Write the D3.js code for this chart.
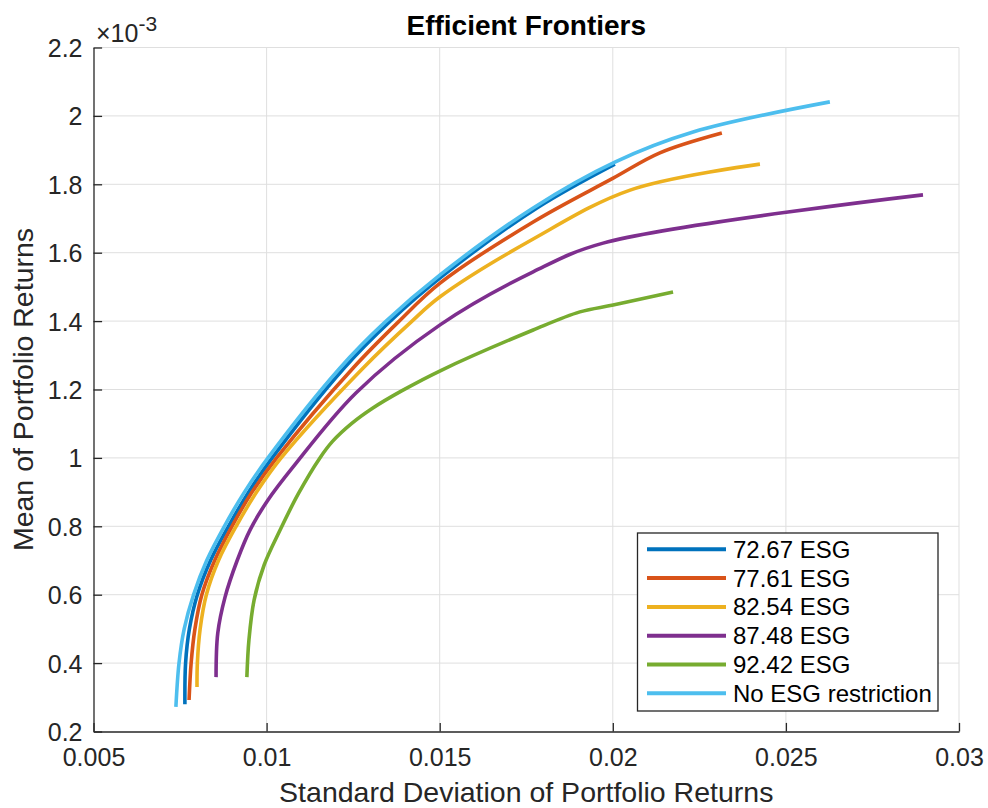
<!DOCTYPE html>
<html>
<head>
<meta charset="utf-8">
<script src="https://cdn.jsdelivr.net/npm/d3@7"></script>
<style>
  html, body { margin: 0; padding: 0; background: #fff; }
  svg { display: block; font-family: "Liberation Sans", Arial, sans-serif; }
</style>
</head>
<body>
<svg id="chart" width="988" height="808"></svg>
<script>
// ---- data: [standard deviation, mean (x 1e-3)] ----
const seriesLabels = ["72.67 ESG", "77.61 ESG", "82.54 ESG", "87.48 ESG", "92.42 ESG", "No ESG restriction"];
const seriesColors = ["#0072BD", "#D95319", "#EDB120", "#7E2F8E", "#77AC30", "#4DBEEE"];

const esg7267 = [[0.00764,0.280],[0.00766,0.4],[0.00777,0.5],[0.0080,0.6],[0.00838,0.7],[0.0089,0.8],[0.00948,0.9],[0.01016,1.0],[0.01224,1.263],[0.01354,1.397],[0.01512,1.535],[0.01781,1.731],[0.02006,1.859]];
const esg7761 = [[0.00776,0.292],[0.00782,0.4],[0.00793,0.5],[0.00813,0.6],[0.0085,0.7],[0.009,0.8],[0.00958,0.9],[0.01029,1.0],[0.0125,1.263],[0.0138,1.397],[0.01501,1.511],[0.0177,1.690],[0.02001,1.818],[0.02136,1.892],[0.02315,1.950]];
const esg8254 = [[0.00799,0.330],[0.008,0.4],[0.00808,0.5],[0.00826,0.6],[0.00861,0.7],[0.00912,0.8],[0.00971,0.9],[0.01042,1.0],[0.01279,1.263],[0.01417,1.397],[0.01501,1.471],[0.0177,1.640],[0.0205,1.783],[0.02425,1.859]];
const esg8748 = [[0.00854,0.359],[0.00859,0.488],[0.0088,0.593],[0.00915,0.700],[0.00952,0.789],[0.01004,0.877],[0.01076,0.973],[0.01258,1.190],[0.01501,1.389],[0.0177,1.544],[0.01972,1.628],[0.02896,1.769]];
const esg9242 = [[0.00943,0.359],[0.00949,0.468],[0.00964,0.585],[0.00993,0.687],[0.01039,0.789],[0.01091,0.894],[0.01154,1.0],[0.01191,1.049],[0.01246,1.101],[0.01307,1.146],[0.0139,1.196],[0.01506,1.257],[0.0177,1.374],[0.01905,1.427],[0.02001,1.447],[0.02174,1.485]];
const noEsg   = [[0.00738,0.272],[0.00747,0.4],[0.00762,0.5],[0.00789,0.6],[0.00827,0.7],[0.00878,0.8],[0.00936,0.9],[0.01004,1.0],[0.01212,1.263],[0.01342,1.397],[0.01501,1.535],[0.0177,1.731],[0.02006,1.865],[0.02232,1.953],[0.02627,2.041]];
const seriesData = [esg7267, esg7761, esg8254, esg8748, esg9242, noEsg];

const xTicks = [0.005, 0.01, 0.015, 0.02, 0.025, 0.03];
const xTickLabels = ["0.005", "0.01", "0.015", "0.02", "0.025", "0.03"];
const yTicks = [0.2, 0.4, 0.6, 0.8, 1.0, 1.2, 1.4, 1.6, 1.8, 2.0, 2.2];
const yTickLabels = ["0.2", "0.4", "0.6", "0.8", "1", "1.2", "1.4", "1.6", "1.8", "2", "2.2"];

const titleText = "Efficient Frontiers";
const xLabelText = "Standard Deviation of Portfolio Returns";
const yLabelText = "Mean of Portfolio Returns";

// ---- layout ----
const svg = d3.select("#chart");
const L = 93.5, R = 959, T = 47.5, B = 731.5;
const x = d3.scaleLinear().domain([0.005, 0.03]).range([L, R]);
const y = d3.scaleLinear().domain([0.2, 2.2]).range([B, T]);
const axisColor = "#262626";
const textColor = "#262626";
const gridColor = "#dfdfdf";

// grid
const grid = svg.append("g");
grid.selectAll("line.gx").data(xTicks.slice(1)).enter().append("line")
  .attr("x1", d => x(d)).attr("x2", d => x(d)).attr("y1", T).attr("y2", B)
  .attr("stroke", gridColor).attr("stroke-width", 1);
grid.selectAll("line.gy").data(yTicks.slice(1)).enter().append("line")
  .attr("x1", L).attr("x2", R).attr("y1", d => y(d)).attr("y2", d => y(d))
  .attr("stroke", gridColor).attr("stroke-width", 1);

// axes
const xAxis = d3.axisBottom(x).tickValues(xTicks).tickFormat((d, i) => xTickLabels[i])
  .tickSizeInner(-8.6).tickSizeOuter(0).tickPadding(24);
const gx = svg.append("g").attr("transform", `translate(0,${B})`).call(xAxis);
gx.select(".domain").attr("stroke", axisColor).attr("stroke-width", 1.3);
gx.selectAll(".tick line").attr("stroke", axisColor).attr("stroke-width", 1.3);
gx.selectAll(".tick text").attr("fill", textColor).attr("font-size", 25)
  .attr("font-family", "Liberation Sans, Arial, sans-serif").attr("dy", null).attr("y", 34);

const yAxis = d3.axisLeft(y).tickValues(yTicks).tickFormat((d, i) => yTickLabels[i])
  .tickSizeInner(-8.6).tickSizeOuter(0).tickPadding(19);
const gy = svg.append("g").attr("transform", `translate(${L},0)`).call(yAxis);
gy.select(".domain").attr("stroke", axisColor).attr("stroke-width", 1.3);
gy.selectAll(".tick line").attr("stroke", axisColor).attr("stroke-width", 1.3);
gy.selectAll(".tick text").attr("fill", textColor).attr("font-size", 25)
  .attr("font-family", "Liberation Sans, Arial, sans-serif").attr("x", -11).attr("dy", "0.36em");

// exponent label
const expo = svg.append("text").attr("x", 96).attr("y", 42).attr("fill", textColor)
  .attr("font-size", 25);
expo.append("tspan").text("\u00d710");
expo.append("tspan").attr("font-size", 21).attr("dy", -11).text("-3");

// lines
const line = d3.line().x(d => x(d[0])).y(d => y(d[1])).curve(d3.curveCatmullRom.alpha(0.5));
svg.append("g").selectAll("path").data(seriesData).enter().append("path")
  .attr("d", d => line(d)).attr("fill", "none")
  .attr("stroke", (d, i) => seriesColors[i]).attr("stroke-width", 3.6)
  .attr("stroke-linejoin", "round");

// title & labels
svg.append("text").attr("x", (L + R) / 2).attr("y", 35).attr("text-anchor", "middle")
  .attr("font-size", 28).attr("font-weight", "bold").attr("fill", "#000").text(titleText);
svg.append("text").attr("x", (L + R) / 2).attr("y", 802).attr("text-anchor", "middle")
  .attr("font-size", 28.5).attr("fill", textColor).text(xLabelText);
svg.append("text").attr("transform", `translate(33,${(T + B) / 2}) rotate(-90)`)
  .attr("text-anchor", "middle").attr("font-size", 28.5).attr("fill", textColor).text(yLabelText);

// legend
const lg = svg.append("g");
lg.append("rect").attr("x", 637.5).attr("y", 533).attr("width", 300.5).attr("height", 178)
  .attr("fill", "#fff").attr("stroke", axisColor).attr("stroke-width", 1.3);
const rowY = d3.scaleLinear().domain([0, 5]).range([549.3, 693.3]);
const rows = lg.selectAll("g.row").data(seriesLabels).enter().append("g");
rows.append("line").attr("x1", 647).attr("x2", 726)
  .attr("y1", (d, i) => rowY(i)).attr("y2", (d, i) => rowY(i))
  .attr("stroke", (d, i) => seriesColors[i]).attr("stroke-width", 4);
rows.append("text").attr("x", 733).attr("y", (d, i) => rowY(i) + 8.5)
  .attr("font-size", 24).attr("fill", "#000").text(d => d);
</script>
</body>
</html>
